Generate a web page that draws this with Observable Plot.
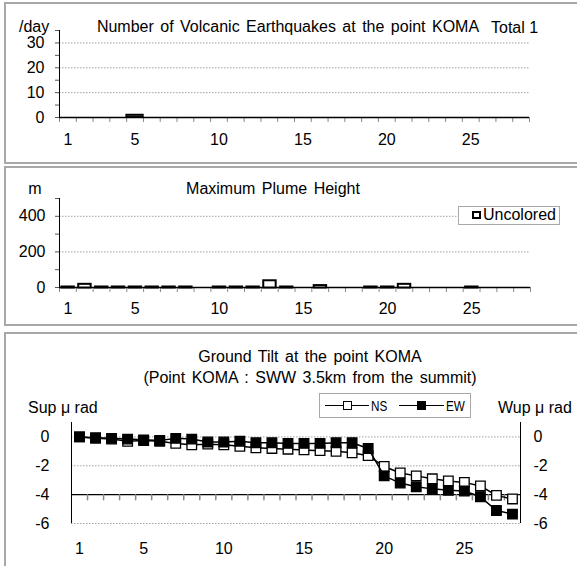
<!DOCTYPE html>
<html>
<head>
<meta charset="utf-8">
<script src="https://cdn.jsdelivr.net/npm/d3@7"></script>
<script src="https://cdn.jsdelivr.net/npm/@observablehq/plot@0.6"></script>
<style>
  html, body { margin: 0; padding: 0; background: #fff; }
  #wrap { position: relative; width: 577px; height: 566px; overflow: hidden; background: #fff;
          font-family: "Liberation Sans", Arial, sans-serif; color: #000; }
  .box { position: absolute; border: 2px solid #a8a8a8; box-sizing: border-box; }
  .t { position: absolute; font-size: 16px; line-height: 16px; white-space: nowrap; }
  .c { text-align: center; word-spacing: 2px; }
  .plot { position: absolute; left: 0; }
  .leg { position: absolute; border: 1px solid #a8a8a8; background: #fff; box-sizing: border-box; }
  .sq { position: absolute; box-sizing: border-box; border: 1.5px solid #000; }
  .ln { position: absolute; height: 0; border-top: 1.5px solid #000; }
  .lt { position: absolute; font-size: 15px; line-height: 15px; transform: scaleX(0.78); transform-origin: left center; white-space: nowrap; }
</style>
</head>
<body>
<div id="wrap">
  <div class="box" style="left:4px;top:2px;width:600px;height:162px;"></div>
  <div class="box" style="left:4px;top:166px;width:600px;height:160px;"></div>
  <div class="box" style="left:4px;top:332px;width:600px;height:260px;"></div>

  <div class="t" style="left:19px;top:18.5px;">/day</div>
  <div class="t c" style="left:88px;width:400px;top:18.5px;">Number of Volcanic Earthquakes at the point KOMA</div>
  <div class="t" style="left:491px;top:19.5px;">Total 1</div>

  <div class="t c" style="left:15px;width:40px;top:180.5px;">m</div>
  <div class="t c" style="left:123px;width:300px;top:180.5px;">Maximum Plume Height</div>

  <div class="t c" style="left:60px;width:500px;top:348.5px;">Ground Tilt at the point KOMA</div>
  <div class="t c" style="left:60px;width:500px;top:369.5px;">(Point KOMA : SWW 3.5km from the summit)</div>
  <div class="t" style="left:28px;top:399.5px;">Sup μ rad</div>
  <div class="t" style="left:498px;top:399.5px;">Wup μ rad</div>
</div>
<script>
// ---- data ----
const days = [1,2,3,4,5,6,7,8,9,10,11,12,13,14,15,16,17,18,19,20,21,22,23,24,25,26,27,28];
const xTickLabels = [1, 5, 10, 15, 20, 25];

const quakeDays = [5];
const quakeCounts = [1];
const quakeYTicks = [0, 10, 20, 30];
const quakeTotal = 1;

const plumeDays = [1,2,3,4,5,6,7,8,10,11,12,13,14,16,19,20,21,25];
const plumeHeights = [0,15,0,0,0,0,0,0,0,0,0,35,0,8,0,0,15,0];
const plumeYTicks = [0, 200, 400];
const plumeLegend = ["Uncolored"];

const tiltNS = [0,-0.1,-0.15,-0.3,-0.25,-0.3,-0.45,-0.55,-0.5,-0.55,-0.65,-0.75,-0.8,-0.85,-0.9,-0.95,-1.0,-1.1,-1.3,-2.05,-2.5,-2.7,-2.9,-3.05,-3.15,-3.4,-4.05,-4.3];
const tiltEW = [0,-0.05,-0.1,-0.15,-0.2,-0.25,-0.1,-0.15,-0.35,-0.35,-0.3,-0.4,-0.4,-0.45,-0.45,-0.45,-0.4,-0.4,-0.8,-2.7,-3.2,-3.45,-3.6,-3.7,-3.75,-4.15,-5.1,-5.35];
const tiltYTicks = [0, -2, -4, -6];
const tiltSeries = ["NS", "EW"];

// ---- derived tables ----
const bounds = days.map(d => d - 0.5).concat([days[days.length - 1] + 0.5]);
const quakes = quakeDays.map((d, i) => ({day: d, count: quakeCounts[i]}));
const plumes = plumeDays.map((d, i) => ({day: d, h: plumeHeights[i]}));
const tilt = days.map((d, i) => ({day: d, ns: tiltNS[i], ew: tiltEW[i]}));
const xDomain = [bounds[0], bounds[bounds.length - 1]];
const wrap = document.getElementById("wrap");
const style = {fontFamily: "'Liberation Sans', Arial, sans-serif", fontSize: "16px", background: "transparent", overflow: "visible", color: "#000"};
const grid = {stroke: "#8a8a8a", strokeDasharray: "1.5,1.5", strokeWidth: 0.8};
const tickShape = {draw(ctx, l) { ctx.moveTo(0, 0); ctx.lineTo(0, -l); }};
const fmt = d => String(d);
const none = () => "";

function place(svg, top) {
  svg.classList.add("plot");
  svg.style.position = "absolute";
  svg.style.top = top + "px";
  wrap.appendChild(svg);
}

// ---- panel 1: earthquakes ----
const p1 = Plot.plot({
  width: 577, height: 160,
  marginLeft: 59, marginRight: 48, marginTop: 30, marginBottom: 43,
  style,
  x: {type: "linear", domain: xDomain, axis: null, label: null},
  y: {domain: [0, 35], axis: null, label: null},
  marks: [
    Plot.ruleY(quakeYTicks.filter(v => v > 0), grid),
    Plot.rectY(quakes, {x1: d => d.day - 0.5, x2: d => d.day + 0.5, y: "count", fill: "#333", stroke: "#000", strokeWidth: 1.5}),
    Plot.axisY({ticks: d3.range(0, 36, 5), tickSize: 4, tickFormat: none, stroke: "#555", label: null}),
    Plot.axisY({ticks: quakeYTicks, tickSize: 0, tickPadding: 15, fontSize: 16, tickFormat: fmt, label: null}),
    Plot.axisX({ticks: bounds, tickSize: 5, tickFormat: none, stroke: "#888", label: null}),
    Plot.axisX({ticks: xTickLabels, tickSize: 0, tickPadding: 16, fontSize: 16, tickFormat: fmt, label: null}),
    Plot.ruleX([xDomain[0]], {stroke: "#000"}),
    Plot.ruleY([0], {stroke: "#000", strokeWidth: 1.3})
  ]
});
place(p1, 0);

// ---- panel 2: plume height ----
const p2 = Plot.plot({
  width: 577, height: 160,
  marginLeft: 59, marginRight: 47, marginTop: 33, marginBottom: 38,
  style,
  x: {type: "linear", domain: xDomain, axis: null, label: null},
  y: {domain: [0, 500], axis: null, label: null},
  marks: [
    Plot.ruleY(plumeYTicks.filter(v => v > 0), grid),
    Plot.axisY({ticks: d3.range(0, 501, 100), tickSize: 4, tickFormat: none, stroke: "#555", label: null}),
    Plot.axisY({ticks: plumeYTicks, tickSize: 0, tickPadding: 14, fontSize: 16, tickFormat: fmt, label: null}),
    Plot.axisX({ticks: bounds, tickSize: 5, tickFormat: none, stroke: "#888", label: null}),
    Plot.axisX({ticks: xTickLabels, tickSize: 0, tickPadding: 15, fontSize: 16, tickFormat: fmt, label: null}),
    Plot.ruleX([xDomain[0]], {stroke: "#000"}),
    Plot.ruleY([0], {stroke: "#000", strokeWidth: 1.3}),
    Plot.rectY(plumes, {x1: d => d.day - 0.5, x2: d => d.day + 0.5, y: "h", fill: "#fff", stroke: "#000", strokeWidth: 2,
      insetLeft: 2.4, insetRight: 2.0, insetTop: -0.5, insetBottom: -0.5})
  ]
});
place(p2, 165);

// legend panel 2
{
  const leg = document.createElement("div");
  leg.className = "leg";
  Object.assign(leg.style, {left: "458px", top: "206px", width: "102px", height: "19px"});
  wrap.appendChild(leg);
  const sq = document.createElement("div");
  sq.className = "sq";
  Object.assign(sq.style, {left: "472px", top: "211px", width: "9px", height: "8px", background: "#fff", borderWidth: "2px"});
  wrap.appendChild(sq);
  const tx = document.createElement("div");
  tx.className = "t";
  Object.assign(tx.style, {left: "483px", top: "206.5px"});
  tx.textContent = plumeLegend[0];
  wrap.appendChild(tx);
}

// ---- panel 3: tilt ----
const p3 = Plot.plot({
  width: 577, height: 233,
  marginLeft: 71, marginRight: 57, marginTop: 89, marginBottom: 43,
  style,
  x: {type: "linear", domain: xDomain, axis: null, label: null},
  y: {domain: [-6, 1], axis: null, label: null},
  marks: [
    Plot.ruleY(tiltYTicks.filter(v => v !== -4), grid),
    Plot.ruleY([-4], {stroke: "#000", strokeWidth: 1.2}),
    Plot.vector(bounds.slice(1, -1), {x: d => d, y: -4, length: 5, rotate: 180, anchor: "start", stroke: "#888", shape: tickShape}),
    Plot.ruleX([xDomain[0], xDomain[1]], {stroke: "#000"}),
    Plot.axisY({anchor: "left", ticks: tiltYTicks, tickSize: 0, tickPadding: 22, fontSize: 16, tickFormat: fmt, label: null}),
    Plot.axisY({anchor: "right", ticks: tiltYTicks, tickSize: 0, tickPadding: 13, fontSize: 16, tickFormat: fmt, label: null}),
    Plot.axisX({ticks: xTickLabels, tickSize: 0, tickPadding: 19, fontSize: 16, tickFormat: fmt, label: null}),
    Plot.line(tilt, {x: "day", y: "ns", stroke: "#000", strokeWidth: 1.5}),
    Plot.dot(tilt, {x: "day", y: "ns", symbol: "square", r: 5.4, fill: "#fff", stroke: "#000", strokeWidth: 1.3}),
    Plot.line(tilt, {x: "day", y: "ew", stroke: "#000", strokeWidth: 1.5}),
    Plot.dot(tilt, {x: "day", y: "ew", symbol: "square", r: 5.4, fill: "#000", stroke: "#000", strokeWidth: 1.3})
  ]
});
place(p3, 333);

// legend panel 3
{
  const leg = document.createElement("div");
  leg.className = "leg";
  Object.assign(leg.style, {left: "319px", top: "393px", width: "152px", height: "25px"});
  wrap.appendChild(leg);
  const items = [
    {name: tiltSeries[0], x0: 325, x1: 369, fill: "#fff", tx: 371},
    {name: tiltSeries[1], x0: 399, x1: 444, fill: "#000", tx: 446}
  ];
  for (const it of items) {
    const ln = document.createElement("div");
    ln.className = "ln";
    Object.assign(ln.style, {left: it.x0 + "px", width: (it.x1 - it.x0) + "px", top: "404.5px"});
    wrap.appendChild(ln);
    const sq = document.createElement("div");
    sq.className = "sq";
    const cx = (it.x0 + it.x1) / 2;
    Object.assign(sq.style, {left: (cx - 4.5) + "px", top: "401px", width: "9px", height: "9px", background: it.fill});
    wrap.appendChild(sq);
    const tx = document.createElement("div");
    tx.className = "lt";
    Object.assign(tx.style, {left: it.tx + "px", top: "398px"});
    tx.textContent = it.name;
    wrap.appendChild(tx);
  }
}
</script>
</body>
</html>
